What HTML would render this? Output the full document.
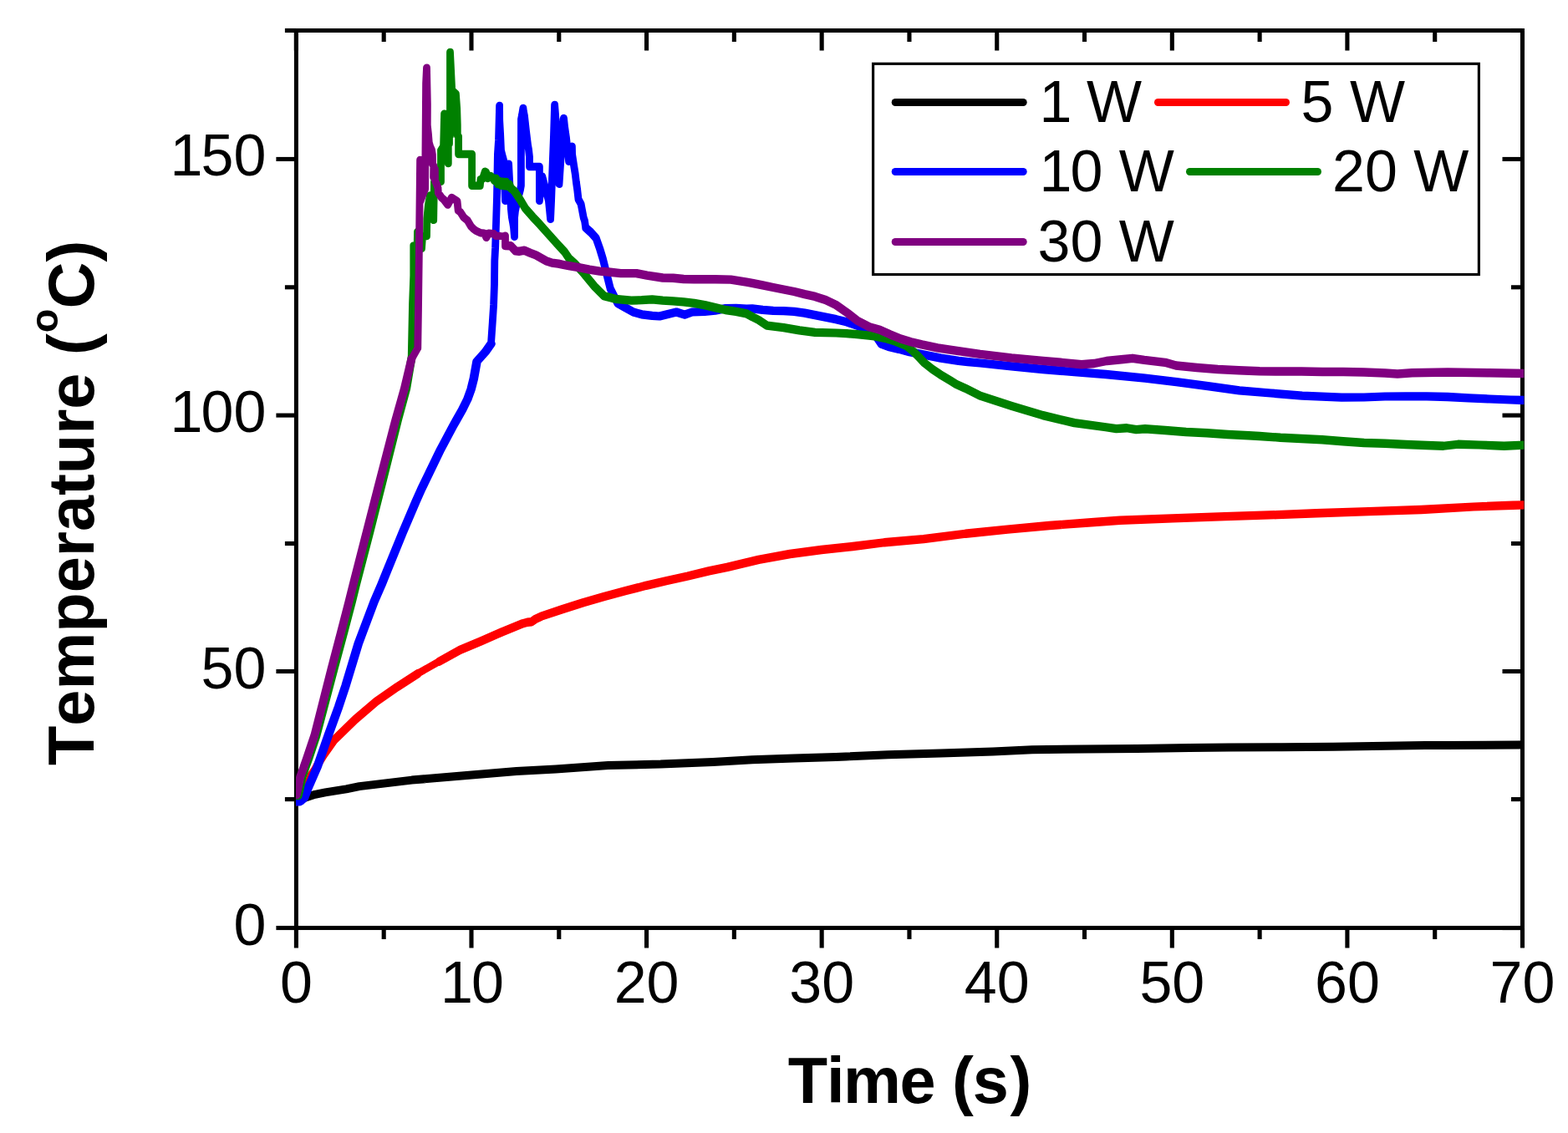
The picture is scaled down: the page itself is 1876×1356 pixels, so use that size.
<!DOCTYPE html>
<html lang="en"><head><meta charset="utf-8"><title>Temperature vs Time</title>
<style>html,body{margin:0;padding:0;background:#fff;}body{width:1876px;height:1356px;overflow:hidden;}svg{display:block;}text{font-family:"Liberation Sans",Arial,Helvetica,sans-serif;fill:#000;font-kerning:none;font-variant-ligatures:none;}.tl{font-size:70px;}.ax{font-size:77px;font-weight:bold;}.lg{font-size:70px;}</style></head><body>
<svg xmlns="http://www.w3.org/2000/svg" width="1876" height="1356" viewBox="0 0 1876 1356">
<rect x="0" y="0" width="1876" height="1356" fill="#ffffff"/>
<defs><clipPath id="pc"><rect x="354" y="30" width="1469.4" height="1083.2"/></clipPath></defs>
<rect x="354.40" y="36.50" width="1467.10" height="1074.05" fill="none" stroke="#000" stroke-width="5"/>
<g stroke="#000" stroke-width="5.1" fill="none">
<path d="M354.40 1110.55 V1134.55"/>
<path d="M354.40 36.50 V60.50"/>
<path d="M459.19 1110.55 V1124.05"/>
<path d="M459.19 36.50 V50.00"/>
<path d="M563.99 1110.55 V1134.55"/>
<path d="M563.99 36.50 V60.50"/>
<path d="M668.78 1110.55 V1124.05"/>
<path d="M668.78 36.50 V50.00"/>
<path d="M773.57 1110.55 V1134.55"/>
<path d="M773.57 36.50 V60.50"/>
<path d="M878.36 1110.55 V1124.05"/>
<path d="M878.36 36.50 V50.00"/>
<path d="M983.16 1110.55 V1134.55"/>
<path d="M983.16 36.50 V60.50"/>
<path d="M1087.95 1110.55 V1124.05"/>
<path d="M1087.95 36.50 V50.00"/>
<path d="M1192.74 1110.55 V1134.55"/>
<path d="M1192.74 36.50 V60.50"/>
<path d="M1297.54 1110.55 V1124.05"/>
<path d="M1297.54 36.50 V50.00"/>
<path d="M1402.33 1110.55 V1134.55"/>
<path d="M1402.33 36.50 V60.50"/>
<path d="M1507.12 1110.55 V1124.05"/>
<path d="M1507.12 36.50 V50.00"/>
<path d="M1611.91 1110.55 V1134.55"/>
<path d="M1611.91 36.50 V60.50"/>
<path d="M1716.71 1110.55 V1124.05"/>
<path d="M1716.71 36.50 V50.00"/>
<path d="M1821.50 1110.55 V1134.55"/>
<path d="M1821.50 36.50 V60.50"/>
<path d="M354.40 1110.55 H330.40"/>
<path d="M1821.50 1110.55 H1797.50"/>
<path d="M354.40 956.60 H340.90"/>
<path d="M1821.50 956.60 H1808.00"/>
<path d="M354.40 803.50 H330.40"/>
<path d="M1821.50 803.50 H1797.50"/>
<path d="M354.40 650.50 H340.90"/>
<path d="M1821.50 650.50 H1808.00"/>
<path d="M354.40 497.10 H330.40"/>
<path d="M1821.50 497.10 H1797.50"/>
<path d="M354.40 343.80 H340.90"/>
<path d="M1821.50 343.80 H1808.00"/>
<path d="M354.40 190.45 H330.40"/>
<path d="M1821.50 190.45 H1797.50"/>
<path d="M354.40 36.50 H340.90"/>
<path d="M1821.50 36.50 H1808.00"/>
</g>
<text class="tl" transform="translate(354.4 1200.2) scale(1 1.012)" x="-19.5">0</text>
<text class="tl" transform="translate(564.0 1200.2) scale(1 1.012)" x="-36.9 0.0">10</text>
<text class="tl" transform="translate(773.6 1200.2) scale(1 1.012)" x="-38.9 0.0">20</text>
<text class="tl" transform="translate(983.2 1200.2) scale(1 1.012)" x="-38.9 0.0">30</text>
<text class="tl" transform="translate(1192.7 1200.2) scale(1 1.012)" x="-38.9 0.0">40</text>
<text class="tl" transform="translate(1402.3 1200.2) scale(1 1.012)" x="-38.9 0.0">50</text>
<text class="tl" transform="translate(1611.9 1200.2) scale(1 1.012)" x="-38.9 0.0">60</text>
<text class="tl" transform="translate(1821.5 1200.2) scale(1 1.012)" x="-38.9 0.0">70</text>
<text class="tl" transform="translate(318.3 1130.5) scale(1 1.012)" x="-38.9">0</text>
<text class="tl" transform="translate(318.3 823.5) scale(1 1.012)" x="-77.9 -38.9">50</text>
<text class="tl" transform="translate(318.3 517.1) scale(1 1.012)" x="-114.8 -77.9 -38.9">100</text>
<text class="tl" transform="translate(318.3 210.4) scale(1 1.012)" x="-114.8 -77.9 -38.9">150</text>
<g clip-path="url(#pc)" fill="none" stroke-width="8.8" stroke-linejoin="round" stroke-linecap="round">
<path stroke="#000000" d="M350.0 959.9 L358.0 958.8 L365.0 954.6 L377.0 950.8 L389.2 948.4 L414.3 944.4 L430.0 941.1 L492.7 933.6 L555.4 928.2 L618.0 923.0 L665.0 920.5 L727.7 915.9 L790.4 914.6 L853.0 911.9 L900.0 909.2 L950.0 907.5 L1000.0 906.0 L1062.7 903.2 L1125.4 901.6 L1188.0 899.6 L1235.0 897.3 L1297.7 896.5 L1360.4 895.9 L1423.0 894.9 L1470.0 894.5 L1532.7 894.3 L1595.4 893.7 L1658.0 892.7 L1705.0 892.1 L1728.8 892.1 L1816.5 891.4 L1826.0 891.3 M350.0 959.3 L358.0 958.2 L365.0 954.0 L377.0 950.2 L389.2 947.8 L414.3 943.8 L430.0 940.5 L492.7 933.0 L555.4 927.6 L618.0 922.4 L665.0 919.9 L727.7 915.3 L790.4 914.0 L853.0 911.3 L900.0 908.6 L950.0 906.9 L1000.0 905.4 L1062.7 902.6 L1125.4 901.0 L1188.0 899.0 L1235.0 896.7 L1297.7 895.9 L1360.4 895.3 L1423.0 894.3 L1470.0 893.9 L1532.7 893.7 L1595.4 893.1 L1658.0 892.1 L1705.0 891.5 L1728.8 891.5 L1816.5 890.8 L1826.0 890.7 M350.0 960.5 L358.0 959.4 L365.0 955.2 L377.0 951.4 L389.2 949.0 L414.3 945.0 L430.0 941.7 L492.7 934.2 L555.4 928.8 L618.0 923.6 L665.0 921.1 L727.7 916.5 L790.4 915.2 L853.0 912.5 L900.0 909.8 L950.0 908.1 L1000.0 906.6 L1062.7 903.8 L1125.4 902.2 L1188.0 900.2 L1235.0 897.9 L1297.7 897.1 L1360.4 896.5 L1423.0 895.5 L1470.0 895.1 L1532.7 894.9 L1595.4 894.3 L1658.0 893.3 L1705.0 892.7 L1728.8 892.7 L1816.5 892.0 L1826.0 891.9"/>
<path stroke="#ff0000" d="M350.0 959.8 L358.0 958.6 L362.0 953.0 L365.5 946.0 L368.8 940.4 L370.1 934.7 L372.6 927.2 L377.0 920.9 L380.1 915.2 L387.0 904.0 L393.0 895.5 L400.0 885.5 L425.1 861.0 L450.1 839.7 L475.2 822.2 L500.3 805.9 L525.4 791.7 L550.4 777.9 L575.5 767.4 L600.6 756.4 L625.6 746.1 L631.0 744.8 L636.0 744.3 L641.0 740.6 L647.5 737.6 L672.6 729.3 L697.7 721.3 L722.8 714.0 L747.8 707.4 L772.9 700.9 L798.0 695.0 L823.0 689.5 L848.1 683.4 L870.0 678.9 L907.6 669.9 L945.2 663.0 L982.8 658.0 L1020.4 654.0 L1058.0 649.2 L1105.0 645.1 L1155.1 638.7 L1205.3 633.6 L1255.4 629.0 L1305.6 625.2 L1340.0 622.7 L1402.7 620.4 L1465.4 618.1 L1528.0 616.1 L1575.0 614.2 L1637.7 612.1 L1700.4 610.0 L1763.0 606.5 L1810.0 604.7 L1826.0 604.4 M349.5 959.8 L357.5 958.6 L361.5 953.0 L365.0 946.0 L368.3 940.4 L369.6 934.7 L372.1 927.2 L376.5 920.9 L379.6 915.2 L386.5 904.0 L392.5 895.5 L399.5 885.5 L424.6 861.0 L449.6 839.7 L474.7 822.2 L499.8 805.9 M350.0 959.0 L358.0 957.8 L362.0 952.2 L365.5 945.2 L368.8 939.6 L370.1 933.9 L372.6 926.4 L377.0 920.1 L380.1 914.4 L387.0 903.2 L393.0 894.7 L400.0 884.7 L425.1 860.2 L450.1 838.9 L475.2 821.4 L500.3 805.1 M350.0 960.6 L358.0 959.4 L362.0 953.8 L365.5 946.8 L368.8 941.2 L370.1 935.5 L372.6 928.0 L377.0 921.7 L380.1 916.0 L387.0 904.8 L393.0 896.3 L400.0 886.3 L425.1 861.8 L450.1 840.5 L475.2 823.0 L500.3 806.7 M350.5 959.8 L358.5 958.6 L362.5 953.0 L366.0 946.0 L369.3 940.4 L370.6 934.7 L373.1 927.2 L377.5 920.9 L380.6 915.2 L387.5 904.0 L393.5 895.5 L400.5 885.5 L425.6 861.0 L450.6 839.7 L475.7 822.2 L500.8 805.9 M525.4 791.0 L550.4 777.1 L575.5 766.6 L600.6 755.6 L625.6 745.4 L631.0 744.0 L636.0 743.5 L641.0 739.9 L647.5 736.9 L672.6 728.5 L697.7 720.5 L722.8 713.2 L747.8 706.6 L772.9 700.1 L798.0 694.2 L823.0 688.8 L848.1 682.6 L870.0 678.1 L907.6 669.1 L945.2 662.2 L982.8 657.2 L1020.4 653.2 L1058.0 648.5 L1105.0 644.4 L1155.1 638.0 L1205.3 632.9 L1255.4 628.2 L1305.6 624.5 L1340.0 622.0 L1402.7 619.6 L1465.4 617.4 L1528.0 615.4 L1575.0 613.5 L1637.7 611.4 L1700.4 609.2 L1763.0 605.8 L1810.0 604.0 L1826.0 603.6 M525.4 792.5 L550.4 778.6 L575.5 768.1 L600.6 757.1 L625.6 746.9 L631.0 745.5 L636.0 745.0 L641.0 741.4 L647.5 738.4 L672.6 730.0 L697.7 722.0 L722.8 714.8 L747.8 708.1 L772.9 701.6 L798.0 695.8 L823.0 690.2 L848.1 684.1 L870.0 679.6 L907.6 670.6 L945.2 663.8 L982.8 658.8 L1020.4 654.8 L1058.0 650.0 L1105.0 645.9 L1155.1 639.5 L1205.3 634.4 L1255.4 629.8 L1305.6 626.0 L1340.0 623.5 L1402.7 621.1 L1465.4 618.9 L1528.0 616.9 L1575.0 615.0 L1637.7 612.9 L1700.4 610.8 L1763.0 607.2 L1810.0 605.5 L1826.0 605.1"/>
<path stroke="#0000ff" d="M350.0 959.6 L359.0 959.6 L364.0 955.0 L368.6 942.9 L379.6 917.7 L392.8 880.0 L405.3 845.4 L413.6 820.3 L428.8 770.1 L447.6 720.0 L456.3 700.0 L462.4 685.0 L481.6 637.7 L497.6 600.0 L504.4 585.0 L527.2 537.7 L541.8 510.5 L545.9 503.0 L553.1 490.4 L559.3 477.9 L563.7 465.4 L566.9 452.8 L570.5 432.7 L580.5 421.4 L587.5 411.4 L589.3 385.1 L590.6 365.0 L591.5 340.0 L591.8 312.0 L592.6 297.0 L593.5 268.0 L594.5 236.0 L595.4 185.0 L596.5 168.0 L597.6 126.4 L597.7 144.0 L598.6 160.0 L599.5 180.0 L601.0 186.0 L602.6 192.0 L604.5 240.3 L608.6 196.3 L609.6 216.0 L611.4 250.0 L612.4 260.0 L613.6 266.3 L614.6 272.6 L615.5 283.3 L615.6 260.0 L616.5 252.0 L619.5 238.0 L622.5 227.0 L623.4 222.0 L623.4 185.0 L623.5 143.0 L624.5 138.0 L625.9 129.4 L626.5 134.0 L627.5 139.0 L628.4 147.0 L629.5 157.0 L630.6 166.0 L631.6 174.0 L632.5 179.0 L633.5 188.0 L633.5 199.5 L645.4 199.5 L645.4 240.3 L648.6 210.8 L656.4 240.0 L657.4 250.0 L658.6 262.2 L659.6 240.0 L661.4 190.0 L662.4 165.0 L663.6 125.4 L664.6 138.0 L669.0 220.3 L672.6 165.0 L674.0 143.0 L674.5 141.4 L675.6 152.0 L677.5 165.0 L680.6 193.2 L684.4 175.3 L684.6 185.0 L686.9 200.0 L688.2 208.0 L689.4 218.0 L690.7 227.0 L692.0 238.5 L695.1 244.1 L696.4 251.0 L698.2 260.5 L699.5 264.2 L700.7 272.5 L707.0 278.2 L713.2 285.1 L717.6 297.6 L721.4 310.2 L723.9 320.2 L727.0 332.7 L730.2 345.3 L735.2 355.3 L738.9 362.8 L747.7 367.8 L757.7 373.5 L767.8 376.4 L780.3 377.9 L789.1 378.5 L799.1 376.0 L809.2 373.5 L819.2 376.6 L828.0 373.5 L843.0 372.9 L855.6 371.6 L868.1 369.1 L880.6 368.8 L893.2 369.7 L900.0 369.3 L912.5 370.9 L925.1 371.8 L937.6 372.2 L950.2 372.8 L962.7 374.7 L975.2 377.2 L987.8 379.7 L1000.3 382.2 L1012.9 385.3 L1025.4 389.7 L1037.9 394.1 L1046.7 400.4 L1054.2 411.7 L1063.0 414.8 L1075.6 417.9 L1088.1 421.1 L1100.6 423.6 L1113.2 426.1 L1125.7 428.6 L1146.9 431.9 L1158.0 433.1 L1172.6 434.5 L1210.2 438.3 L1247.8 442.0 L1285.4 445.2 L1323.0 448.0 L1370.0 452.7 L1407.6 457.1 L1445.2 462.1 L1482.8 467.4 L1520.4 470.5 L1558.0 473.6 L1605.0 475.6 L1632.0 475.5 L1657.0 474.5 L1682.0 474.3 L1707.0 474.3 L1732.0 475.0 L1757.0 476.3 L1782.0 477.5 L1807.0 478.5 L1826.0 479.0 M349.1 959.6 L358.1 959.6 L363.1 955.0 L367.8 942.9 L378.8 917.7 L391.9 880.0 L404.4 845.4 L412.8 820.3 L427.9 770.1 L446.8 720.0 L455.4 700.0 L461.5 685.0 L480.8 637.7 L496.8 600.0 L503.5 585.0 L526.4 537.7 L540.9 510.5 L545.0 503.0 L552.2 490.4 L558.4 477.9 L562.9 465.4 L566.0 452.8 L569.6 432.7 L579.6 421.4 L586.6 411.4 M350.0 959.1 L359.0 959.1 L364.0 954.5 L368.6 942.4 L379.6 917.2 L392.8 879.5 L405.3 844.9 L413.6 819.8 L428.8 769.6 L447.6 719.5 L456.3 699.5 L462.4 684.5 L481.6 637.2 L497.6 599.5 L504.4 584.5 L527.2 537.2 L541.8 510.0 L545.9 502.5 L553.1 489.9 L559.3 477.4 L563.7 464.9 L566.9 452.3 L570.5 432.2 L580.5 420.9 L587.5 410.9 M350.0 960.1 L359.0 960.1 L364.0 955.5 L368.6 943.4 L379.6 918.2 L392.8 880.5 L405.3 845.9 L413.6 820.8 L428.8 770.6 L447.6 720.5 L456.3 700.5 L462.4 685.5 L481.6 638.2 L497.6 600.5 L504.4 585.5 L527.2 538.2 L541.8 511.0 L545.9 503.5 L553.1 490.9 L559.3 478.4 L563.7 465.9 L566.9 453.3 L570.5 433.2 L580.5 421.9 L587.5 411.9 M350.9 959.6 L359.9 959.6 L364.9 955.0 L369.5 942.9 L380.5 917.7 L393.7 880.0 L406.2 845.4 L414.5 820.3 L429.7 770.1 L448.5 720.0 L457.2 700.0 L463.2 685.0 L482.5 637.7 L498.5 600.0 L505.2 585.0 L528.1 537.7 L542.6 510.5 L546.8 503.0 L554.0 490.4 L560.1 477.9 L564.6 465.4 L567.8 452.8 L571.4 432.7 L581.4 421.4 L588.4 411.4 M589.3 384.8 L590.6 364.7 L591.5 339.7 L591.8 311.7 L592.6 296.7 L593.5 267.7 L594.5 235.7 L595.4 184.7 L596.5 167.7 L597.6 126.1 L597.7 143.7 L598.6 159.7 L599.5 179.7 L601.0 185.7 L602.6 191.7 L604.5 240.0 L608.6 196.0 L609.6 215.7 L611.4 249.7 L612.4 259.7 L613.6 266.0 L614.6 272.3 L615.5 283.0 L615.6 259.7 L616.5 251.7 L619.5 237.7 L622.5 226.7 L623.4 221.7 L623.4 184.7 L623.5 142.7 L624.5 137.7 L625.9 129.1 L626.5 133.7 L627.5 138.7 L628.4 146.7 L629.5 156.7 L630.6 165.7 L631.6 173.7 L632.5 178.7 L633.5 187.7 L633.5 199.2 L645.4 199.2 L645.4 240.0 L648.6 210.5 L656.4 239.7 L657.4 249.7 L658.6 261.9 L659.6 239.7 L661.4 189.7 L662.4 164.7 L663.6 125.1 L664.6 137.7 L669.0 220.0 L672.6 164.7 L674.0 142.7 L674.5 141.1 L675.6 151.7 L677.5 164.7 L680.6 192.9 L684.4 175.0 L684.6 184.7 L686.9 199.7 L688.2 207.7 L689.4 217.7 L690.7 226.7 L692.0 238.2 L695.1 243.8 L696.4 250.7 L698.2 260.2 L699.5 263.9 M589.3 385.4 L590.6 365.3 L591.5 340.3 L591.8 312.3 L592.6 297.3 L593.5 268.3 L594.5 236.3 L595.4 185.3 L596.5 168.3 L597.6 126.7 L597.7 144.3 L598.6 160.3 L599.5 180.3 L601.0 186.3 L602.6 192.3 L604.5 240.6 L608.6 196.6 L609.6 216.3 L611.4 250.3 L612.4 260.3 L613.6 266.6 L614.6 272.9 L615.5 283.6 L615.6 260.3 L616.5 252.3 L619.5 238.3 L622.5 227.3 L623.4 222.3 L623.4 185.3 L623.5 143.3 L624.5 138.3 L625.9 129.7 L626.5 134.3 L627.5 139.3 L628.4 147.3 L629.5 157.3 L630.6 166.3 L631.6 174.3 L632.5 179.3 L633.5 188.3 L633.5 199.8 L645.4 199.8 L645.4 240.6 L648.6 211.1 L656.4 240.3 L657.4 250.3 L658.6 262.5 L659.6 240.3 L661.4 190.3 L662.4 165.3 L663.6 125.7 L664.6 138.3 L669.0 220.6 L672.6 165.3 L674.0 143.3 L674.5 141.7 L675.6 152.3 L677.5 165.3 L680.6 193.5 L684.4 175.6 L684.6 185.3 L686.9 200.3 L688.2 208.3 L689.4 218.3 L690.7 227.3 L692.0 238.8 L695.1 244.4 L696.4 251.3 L698.2 260.8 L699.5 264.5 M700.7 271.8 L707.0 277.4 L713.2 284.4 L717.6 296.9 L721.4 309.4 L723.9 319.4 L727.0 331.9 L730.2 344.6 L735.2 354.6 L738.9 362.1 L747.7 367.1 L757.7 372.8 L767.8 375.6 L780.3 377.1 L789.1 377.8 L799.1 375.2 L809.2 372.8 L819.2 375.9 L828.0 372.8 L843.0 372.1 L855.6 370.9 L868.1 368.4 L880.6 368.1 L893.2 368.9 L900.0 368.6 L912.5 370.1 L925.1 371.1 L937.6 371.4 L950.2 372.1 L962.7 373.9 L975.2 376.4 L987.8 378.9 L1000.3 381.4 L1012.9 384.6 L1025.4 388.9 L1037.9 393.4 L1046.7 399.6 L1054.2 410.9 L1063.0 414.1 L1075.6 417.1 L1088.1 420.4 L1100.6 422.9 L1113.2 425.4 L1125.7 427.9 L1146.9 431.1 L1158.0 432.4 L1172.6 433.8 L1210.2 437.6 L1247.8 441.2 L1285.4 444.4 L1323.0 447.2 L1370.0 451.9 L1407.6 456.4 L1445.2 461.4 L1482.8 466.6 L1520.4 469.8 L1558.0 472.9 L1605.0 474.9 L1632.0 474.8 L1657.0 473.8 L1682.0 473.6 L1707.0 473.6 L1732.0 474.2 L1757.0 475.6 L1782.0 476.8 L1807.0 477.8 L1826.0 478.2 M700.7 273.2 L707.0 278.9 L713.2 285.9 L717.6 298.4 L721.4 310.9 L723.9 320.9 L727.0 333.4 L730.2 346.1 L735.2 356.1 L738.9 363.6 L747.7 368.6 L757.7 374.2 L767.8 377.1 L780.3 378.6 L789.1 379.2 L799.1 376.8 L809.2 374.2 L819.2 377.4 L828.0 374.2 L843.0 373.6 L855.6 372.4 L868.1 369.9 L880.6 369.6 L893.2 370.4 L900.0 370.1 L912.5 371.6 L925.1 372.6 L937.6 372.9 L950.2 373.6 L962.7 375.4 L975.2 377.9 L987.8 380.4 L1000.3 382.9 L1012.9 386.1 L1025.4 390.4 L1037.9 394.9 L1046.7 401.1 L1054.2 412.4 L1063.0 415.6 L1075.6 418.6 L1088.1 421.9 L1100.6 424.4 L1113.2 426.9 L1125.7 429.4 L1146.9 432.6 L1158.0 433.9 L1172.6 435.2 L1210.2 439.1 L1247.8 442.8 L1285.4 445.9 L1323.0 448.8 L1370.0 453.4 L1407.6 457.9 L1445.2 462.9 L1482.8 468.1 L1520.4 471.2 L1558.0 474.4 L1605.0 476.4 L1632.0 476.2 L1657.0 475.2 L1682.0 475.1 L1707.0 475.1 L1732.0 475.8 L1757.0 477.1 L1782.0 478.2 L1807.0 479.2 L1826.0 479.8"/>
<path stroke="#008000" d="M350.0 952.8 L356.4 952.4 L357.9 946.5 L359.3 939.7 L361.1 930.3 L364.8 919.6 L369.3 907.0 L375.6 888.2 L378.3 880.0 L399.3 800.3 L410.8 757.6 L420.7 720.0 L425.6 700.0 L441.8 637.7 L454.9 585.7 L475.6 503.0 L485.8 465.4 L492.2 427.5 L493.5 365.0 L494.8 330.0 L494.8 294.0 L499.2 293.0 L499.5 277.5 L504.5 297.3 L505.5 283.0 L510.5 282.5 L510.8 262.0 L512.5 245.0 L514.5 234.0 L518.7 263.4 L519.5 218.0 L527.5 217.3 L527.5 180.0 L530.6 175.0 L531.6 136.2 L536.3 195.5 L536.3 173.0 L537.5 172.0 L537.5 163.5 L538.5 162.5 L538.5 62.5 L539.6 85.0 L540.7 108.0 L545.4 112.3 L546.7 130.0 L547.3 150.0 L547.3 162.0 L548.6 163.5 L548.6 184.5 L564.6 184.5 L564.6 222.3 L574.3 222.3 L575.0 214.6 L577.4 214.2 L580.3 205.3 L581.5 205.8 L583.5 213.5 L587.0 210.6 L589.4 212.5 L591.5 216.5 L593.5 213.3 L595.5 220.5 L597.5 216.5 L599.5 222.2 L601.5 217.7 L603.5 222.3 L605.5 217.8 L607.5 222.8 L609.5 220.7 L611.0 225.0 L615.2 228.5 L622.3 239.0 L628.7 249.7 L637.5 259.7 L644.2 266.8 L653.0 276.7 L666.2 291.4 L675.3 301.2 L680.6 309.0 L687.5 315.2 L698.8 327.7 L711.4 342.8 L722.6 354.1 L736.4 357.8 L755.2 359.7 L767.8 359.1 L780.3 358.4 L792.9 359.7 L805.4 360.3 L817.9 361.3 L830.5 362.8 L843.0 365.1 L855.6 368.1 L868.1 371.0 L880.6 372.9 L893.2 375.4 L900.0 379.1 L907.5 382.8 L917.6 389.7 L937.6 392.2 L956.4 395.4 L975.2 397.9 L1000.3 398.5 L1012.9 399.1 L1025.4 400.1 L1040.0 401.7 L1046.3 402.3 L1058.9 404.8 L1071.4 408.6 L1084.0 413.6 L1092.5 420.3 L1099.0 427.0 L1106.0 434.4 L1115.5 441.9 L1124.9 448.2 L1137.5 455.8 L1143.8 459.6 L1154.8 464.6 L1172.6 473.6 L1210.2 485.9 L1247.8 497.2 L1285.4 506.2 L1323.0 511.3 L1335.6 513.1 L1348.1 512.3 L1359.4 514.1 L1370.0 513.2 L1394.0 515.0 L1419.0 517.0 L1444.0 518.3 L1469.0 520.0 L1494.0 521.3 L1507.0 522.0 L1532.0 523.8 L1557.0 525.0 L1582.0 526.3 L1607.0 528.3 L1632.0 530.0 L1657.0 530.8 L1682.0 532.0 L1707.0 533.0 L1727.0 533.8 L1744.5 531.8 L1769.5 532.5 L1799.5 533.8 L1826.0 532.5 M349.8 952.8 L356.2 952.4 L357.7 946.5 L359.1 939.7 L360.9 930.3 L364.6 919.6 L369.1 907.0 L375.4 888.2 L378.1 880.0 L399.1 800.3 L410.6 757.6 L420.5 720.0 L425.4 700.0 L441.6 637.7 L454.7 585.7 L475.4 503.0 L485.6 465.4 L492.0 427.5 M350.0 952.4 L356.4 952.0 L357.9 946.1 L359.3 939.3 L361.1 929.9 L364.8 919.2 L369.3 906.6 L375.6 887.8 L378.3 879.6 L399.3 799.9 L410.8 757.2 L420.7 719.6 L425.6 699.6 L441.8 637.3 L454.9 585.3 L475.6 502.6 L485.8 465.0 L492.2 427.1 M350.0 953.2 L356.4 952.8 L357.9 946.9 L359.3 940.1 L361.1 930.7 L364.8 920.0 L369.3 907.4 L375.6 888.6 L378.3 880.4 L399.3 800.7 L410.8 758.0 L420.7 720.4 L425.6 700.4 L441.8 638.1 L454.9 586.1 L475.6 503.4 L485.8 465.8 L492.2 427.9 M350.9 952.8 L357.3 952.4 L358.8 946.5 L360.2 939.7 L362.0 930.3 L365.7 919.6 L370.2 907.0 L376.5 888.2 L379.2 880.0 L400.2 800.3 L411.7 757.6 L421.6 720.0 L426.5 700.0 L442.7 637.7 L455.8 585.7 L476.5 503.0 L486.7 465.4 L493.1 427.5 M493.5 364.7 L494.8 329.7 L494.8 293.7 L499.2 292.7 L499.5 277.2 L504.5 297.0 L505.5 282.7 L510.5 282.2 L510.8 261.7 L512.5 244.7 L514.5 233.7 L518.7 263.1 L519.5 217.7 L527.5 217.0 L527.5 179.7 L530.6 174.7 L531.6 135.9 L536.3 195.2 L536.3 172.7 L537.5 171.7 L537.5 163.2 L538.5 162.2 L538.5 62.2 L539.6 84.7 L540.7 107.7 L545.4 112.0 L546.7 129.7 L547.3 149.7 L547.3 161.7 L548.6 163.2 L548.6 184.2 L564.6 184.2 L564.6 222.0 L574.3 222.0 L575.0 214.3 L577.4 213.9 L580.3 205.0 L581.5 205.5 L583.5 213.2 L587.0 210.3 L589.4 212.2 L591.5 216.2 L593.5 213.0 L595.5 220.2 L597.5 216.2 L599.5 221.9 M493.5 365.3 L494.8 330.3 L494.8 294.3 L499.2 293.3 L499.5 277.8 L504.5 297.6 L505.5 283.3 L510.5 282.8 L510.8 262.3 L512.5 245.3 L514.5 234.3 L518.7 263.7 L519.5 218.3 L527.5 217.6 L527.5 180.3 L530.6 175.3 L531.6 136.5 L536.3 195.8 L536.3 173.3 L537.5 172.3 L537.5 163.8 L538.5 162.8 L538.5 62.8 L539.6 85.3 L540.7 108.3 L545.4 112.6 L546.7 130.3 L547.3 150.3 L547.3 162.3 L548.6 163.8 L548.6 184.8 L564.6 184.8 L564.6 222.6 L574.3 222.6 L575.0 214.9 L577.4 214.5 L580.3 205.6 L581.5 206.1 L583.5 213.8 L587.0 210.9 L589.4 212.8 L591.5 216.8 L593.5 213.6 L595.5 220.8 L597.5 216.8 L599.5 222.5 M601.5 216.9 L603.5 221.6 L605.5 217.1 L607.5 222.1 L609.5 219.9 L611.0 224.2 L615.2 227.8 L622.3 238.2 L628.7 248.9 L637.5 258.9 L644.2 266.1 L653.0 275.9 L666.2 290.6 L675.3 300.4 L680.6 308.2 L687.5 314.4 L698.8 326.9 L711.4 342.1 L722.6 353.4 L736.4 357.1 L755.2 358.9 L767.8 358.4 L780.3 357.6 L792.9 358.9 L805.4 359.6 L817.9 360.6 L830.5 362.1 L843.0 364.4 L855.6 367.4 L868.1 370.2 L880.6 372.1 L893.2 374.6 L900.0 378.4 L907.5 382.1 L917.6 388.9 L937.6 391.4 L956.4 394.6 L975.2 397.1 L1000.3 397.8 L1012.9 398.4 L1025.4 399.4 L1040.0 400.9 L1046.3 401.6 L1058.9 404.1 L1071.4 407.9 L1084.0 412.9 L1092.5 419.6 L1099.0 426.2 L1106.0 433.6 L1115.5 441.1 L1124.9 447.4 L1137.5 455.1 L1143.8 458.9 L1154.8 463.9 L1172.6 472.9 L1210.2 485.1 L1247.8 496.4 L1285.4 505.4 L1323.0 510.6 L1335.6 512.4 L1348.1 511.5 L1359.4 513.4 L1370.0 512.5 L1394.0 514.2 L1419.0 516.2 L1444.0 517.5 L1469.0 519.2 L1494.0 520.5 L1507.0 521.2 L1532.0 523.0 L1557.0 524.2 L1582.0 525.5 L1607.0 527.5 L1632.0 529.2 L1657.0 530.0 L1682.0 531.2 L1707.0 532.2 L1727.0 533.0 L1744.5 531.0 L1769.5 531.8 L1799.5 533.0 L1826.0 531.8 M601.5 218.4 L603.5 223.1 L605.5 218.6 L607.5 223.6 L609.5 221.4 L611.0 225.8 L615.2 229.2 L622.3 239.8 L628.7 250.4 L637.5 260.4 L644.2 267.6 L653.0 277.4 L666.2 292.1 L675.3 301.9 L680.6 309.8 L687.5 315.9 L698.8 328.4 L711.4 343.6 L722.6 354.9 L736.4 358.6 L755.2 360.4 L767.8 359.9 L780.3 359.1 L792.9 360.4 L805.4 361.1 L817.9 362.1 L830.5 363.6 L843.0 365.9 L855.6 368.9 L868.1 371.8 L880.6 373.6 L893.2 376.1 L900.0 379.9 L907.5 383.6 L917.6 390.4 L937.6 392.9 L956.4 396.1 L975.2 398.6 L1000.3 399.2 L1012.9 399.9 L1025.4 400.9 L1040.0 402.4 L1046.3 403.1 L1058.9 405.6 L1071.4 409.4 L1084.0 414.4 L1092.5 421.1 L1099.0 427.8 L1106.0 435.1 L1115.5 442.6 L1124.9 448.9 L1137.5 456.6 L1143.8 460.4 L1154.8 465.4 L1172.6 474.4 L1210.2 486.6 L1247.8 497.9 L1285.4 506.9 L1323.0 512.0 L1335.6 513.9 L1348.1 513.0 L1359.4 514.9 L1370.0 514.0 L1394.0 515.8 L1419.0 517.8 L1444.0 519.0 L1469.0 520.8 L1494.0 522.0 L1507.0 522.8 L1532.0 524.5 L1557.0 525.8 L1582.0 527.0 L1607.0 529.0 L1632.0 530.8 L1657.0 531.5 L1682.0 532.8 L1707.0 533.8 L1727.0 534.5 L1744.5 532.5 L1769.5 533.2 L1799.5 534.5 L1826.0 533.2"/>
<path stroke="#800080" d="M350.0 952.0 L355.0 951.4 L356.2 946.0 L357.6 939.7 L359.4 930.3 L363.2 919.6 L367.6 907.0 L373.9 888.2 L376.7 880.0 L396.9 800.3 L408.1 757.6 L417.8 720.0 L422.8 700.0 L452.1 585.7 L473.5 503.0 L484.1 465.4 L490.1 440.3 L492.8 429.0 L499.8 416.6 L500.5 370.0 L501.4 300.0 L502.6 191.5 L502.8 241.0 L508.6 226.0 L509.6 100.0 L510.5 81.3 L511.4 125.0 L511.3 150.0 L512.4 160.0 L513.3 170.8 L514.6 175.2 L516.5 179.6 L517.4 185.2 L517.6 196.5 L518.8 198.6 L518.6 212.0 L520.4 202.5 L520.5 216.0 L522.1 219.8 L524.0 224.8 L524.3 230.7 L528.4 236.6 L531.3 239.2 L535.7 245.1 L540.4 236.4 L547.0 240.7 L548.2 252.0 L550.8 253.9 L554.9 260.2 L559.3 263.7 L563.7 271.2 L566.2 273.7 L569.6 276.3 L575.0 278.8 L579.4 279.1 L581.9 284.4 L584.4 279.2 L590.7 279.8 L593.2 282.2 L598.0 282.4 L604.5 282.6 L604.5 294.0 L611.1 294.3 L616.8 300.4 L620.9 300.8 L627.2 299.7 L634.7 302.8 L641.3 305.3 L647.9 309.1 L653.3 312.2 L660.5 314.6 L668.1 315.7 L674.3 317.0 L680.6 318.2 L692.5 320.2 L705.1 322.7 L717.6 324.6 L730.2 325.8 L742.7 327.1 L761.5 327.1 L774.1 329.6 L792.9 332.5 L805.4 332.7 L817.9 334.0 L830.5 334.2 L855.6 334.2 L874.4 334.6 L893.2 337.7 L900.0 338.9 L912.5 341.4 L925.1 344.0 L937.6 346.5 L950.2 349.0 L962.7 352.1 L975.2 354.9 L987.8 359.0 L1000.3 365.0 L1012.9 373.8 L1025.4 383.6 L1040.0 391.3 L1052.6 394.8 L1065.0 400.3 L1077.7 405.5 L1090.0 409.2 L1102.9 412.4 L1121.8 416.3 L1135.0 418.4 L1146.9 420.1 L1172.6 423.9 L1210.2 428.4 L1247.8 431.9 L1269.0 433.8 L1294.0 436.3 L1309.0 435.0 L1324.0 432.0 L1344.0 430.0 L1355.0 428.8 L1369.0 430.8 L1394.0 433.8 L1407.0 437.5 L1432.0 440.0 L1457.0 442.0 L1482.0 443.3 L1507.0 444.3 L1532.0 444.5 L1557.0 444.5 L1582.0 445.0 L1607.0 445.0 L1632.0 445.5 L1657.0 446.5 L1672.0 447.5 L1689.5 446.3 L1732.0 445.5 L1782.0 446.3 L1826.0 447.0 M349.1 952.0 L354.1 951.4 L355.3 946.0 L356.7 939.7 L358.5 930.3 L362.3 919.6 L366.7 907.0 L373.0 888.2 L375.8 880.0 L396.0 800.3 L407.2 757.6 L416.9 720.0 L421.9 700.0 L451.2 585.7 L472.6 503.0 L483.2 465.4 L489.2 440.3 L491.9 429.0 M350.0 951.6 L355.0 951.0 L356.2 945.6 L357.6 939.3 L359.4 929.9 L363.2 919.2 L367.6 906.6 L373.9 887.8 L376.7 879.6 L396.9 799.9 L408.1 757.2 L417.8 719.6 L422.8 699.6 L452.1 585.3 L473.5 502.6 L484.1 465.0 L490.1 439.9 L492.8 428.6 M350.0 952.4 L355.0 951.8 L356.2 946.4 L357.6 940.1 L359.4 930.7 L363.2 920.0 L367.6 907.4 L373.9 888.6 L376.7 880.4 L396.9 800.7 L408.1 758.0 L417.8 720.4 L422.8 700.4 L452.1 586.1 L473.5 503.4 L484.1 465.8 L490.1 440.7 L492.8 429.4 M350.3 952.0 L355.3 951.4 L356.5 946.0 L357.9 939.7 L359.7 930.3 L363.5 919.6 L367.9 907.0 L374.2 888.2 L377.0 880.0 L397.2 800.3 L408.4 757.6 L418.1 720.0 L423.1 700.0 L452.4 585.7 L473.8 503.0 L484.4 465.4 L490.4 440.3 L493.1 429.0 M499.8 416.3 L500.5 369.7 L501.4 299.7 L502.6 191.2 L502.8 240.7 L508.6 225.7 L509.6 99.7 L510.5 81.0 L511.4 124.7 L511.3 149.7 L512.4 159.7 L513.3 170.5 L514.6 174.9 L516.5 179.3 L517.4 184.9 L517.6 196.2 L518.8 198.3 L518.6 211.7 L520.4 202.2 L520.5 215.7 L522.1 219.5 L524.0 224.5 L524.3 230.4 L528.4 236.3 L531.3 238.9 L535.7 244.8 L540.4 236.1 L547.0 240.4 L548.2 251.7 L550.8 253.6 L554.9 259.9 L559.3 263.4 L563.7 270.9 L566.2 273.4 L569.6 276.0 L575.0 278.5 L579.4 278.8 L581.9 284.1 L584.4 278.9 L590.7 279.5 L593.2 281.9 L598.0 282.1 M499.8 416.9 L500.5 370.3 L501.4 300.3 L502.6 191.8 L502.8 241.3 L508.6 226.3 L509.6 100.3 L510.5 81.6 L511.4 125.3 L511.3 150.3 L512.4 160.3 L513.3 171.1 L514.6 175.5 L516.5 179.9 L517.4 185.5 L517.6 196.8 L518.8 198.9 L518.6 212.3 L520.4 202.8 L520.5 216.3 L522.1 220.1 L524.0 225.1 L524.3 231.0 L528.4 236.9 L531.3 239.5 L535.7 245.4 L540.4 236.7 L547.0 241.0 L548.2 252.3 L550.8 254.2 L554.9 260.5 L559.3 264.0 L563.7 271.5 L566.2 274.0 L569.6 276.6 L575.0 279.1 L579.4 279.4 L581.9 284.7 L584.4 279.5 L590.7 280.1 L593.2 282.5 L598.0 282.7 M604.5 281.8 L604.5 293.2 L611.1 293.5 L616.8 299.6 L620.9 300.0 L627.2 298.9 L634.7 302.0 L641.3 304.5 L647.9 308.3 L653.3 311.4 L660.5 313.8 L668.1 314.9 L674.3 316.2 L680.6 317.4 L692.5 319.4 L705.1 321.9 L717.6 323.8 L730.2 325.0 L742.7 326.3 L761.5 326.3 L774.1 328.8 L792.9 331.7 L805.4 331.9 L817.9 333.2 L830.5 333.4 L855.6 333.4 L874.4 333.8 L893.2 336.9 L900.0 338.1 L912.5 340.6 L925.1 343.2 L937.6 345.7 L950.2 348.2 L962.7 351.3 L975.2 354.1 L987.8 358.2 L1000.3 364.2 L1012.9 373.0 L1025.4 382.8 L1040.0 390.5 L1052.6 394.0 L1065.0 399.5 L1077.7 404.7 L1090.0 408.4 L1102.9 411.6 L1121.8 415.5 L1135.0 417.6 L1146.9 419.3 L1172.6 423.1 L1210.2 427.6 L1247.8 431.1 L1269.0 433.0 L1294.0 435.5 L1309.0 434.2 L1324.0 431.2 L1344.0 429.2 L1355.0 428.0 L1369.0 430.0 L1394.0 433.0 L1407.0 436.7 L1432.0 439.2 L1457.0 441.2 L1482.0 442.5 L1507.0 443.5 L1532.0 443.7 L1557.0 443.7 L1582.0 444.2 L1607.0 444.2 L1632.0 444.7 L1657.0 445.7 L1672.0 446.7 L1689.5 445.5 L1732.0 444.7 L1782.0 445.5 L1826.0 446.2 M604.5 283.4 L604.5 294.8 L611.1 295.1 L616.8 301.2 L620.9 301.6 L627.2 300.5 L634.7 303.6 L641.3 306.1 L647.9 309.9 L653.3 313.0 L660.5 315.4 L668.1 316.5 L674.3 317.8 L680.6 319.0 L692.5 321.0 L705.1 323.5 L717.6 325.4 L730.2 326.6 L742.7 327.9 L761.5 327.9 L774.1 330.4 L792.9 333.3 L805.4 333.5 L817.9 334.8 L830.5 335.0 L855.6 335.0 L874.4 335.4 L893.2 338.5 L900.0 339.7 L912.5 342.2 L925.1 344.8 L937.6 347.3 L950.2 349.8 L962.7 352.9 L975.2 355.7 L987.8 359.8 L1000.3 365.8 L1012.9 374.6 L1025.4 384.4 L1040.0 392.1 L1052.6 395.6 L1065.0 401.1 L1077.7 406.3 L1090.0 410.0 L1102.9 413.2 L1121.8 417.1 L1135.0 419.2 L1146.9 420.9 L1172.6 424.7 L1210.2 429.2 L1247.8 432.7 L1269.0 434.6 L1294.0 437.1 L1309.0 435.8 L1324.0 432.8 L1344.0 430.8 L1355.0 429.6 L1369.0 431.6 L1394.0 434.6 L1407.0 438.3 L1432.0 440.8 L1457.0 442.8 L1482.0 444.1 L1507.0 445.1 L1532.0 445.3 L1557.0 445.3 L1582.0 445.8 L1607.0 445.8 L1632.0 446.3 L1657.0 447.3 L1672.0 448.3 L1689.5 447.1 L1732.0 446.3 L1782.0 447.1 L1826.0 447.8"/>
</g>
<rect x="1044.6" y="76.3" width="724.8" height="252.2" fill="#fff" stroke="#000" stroke-width="3.2"/>
<path d="M1071.2 122.5 H1224.2" stroke="#000000" stroke-width="9" stroke-linecap="round" fill="none"/>
<text class="lg" transform="translate(1241.5 145.6) scale(1 1.012)" x="2.0 38.9 58.4">1 W</text>
<path d="M1385.5 122.5 H1538.5" stroke="#ff0000" stroke-width="9" stroke-linecap="round" fill="none"/>
<text class="lg" transform="translate(1556.5 145.6) scale(1 1.012)" x="0.0 38.9 58.4">5 W</text>
<path d="M1071.2 205.5 H1224.2" stroke="#0000ff" stroke-width="9" stroke-linecap="round" fill="none"/>
<text class="lg" transform="translate(1241.5 228.6) scale(1 1.012)" x="2.0 38.9 77.9 97.3">10 W</text>
<path d="M1423.5 205.5 H1576.5" stroke="#008000" stroke-width="9" stroke-linecap="round" fill="none"/>
<text class="lg" transform="translate(1594.0 228.6) scale(1 1.012)" x="0.0 38.9 77.9 97.3">20 W</text>
<path d="M1071.2 289.5 H1224.2" stroke="#800080" stroke-width="9" stroke-linecap="round" fill="none"/>
<text class="lg" transform="translate(1241.5 312.6) scale(1 1.012)" x="0.0 38.9 77.9 97.3">30 W</text>
<text class="ax" style="font-size:77.5px" y="1320" x="942.8 988.9 1008.9 1076.5 1118 1139.0 1163.8 1208.6">Time (s)</text>
<text class="ax" style="font-size:77.5px" transform="translate(111.6 916) rotate(-90)">Temperature (<tspan style="font-size:47px" dy="-43" dx="1">o</tspan><tspan dy="43">C)</tspan></text>
</svg></body></html>
